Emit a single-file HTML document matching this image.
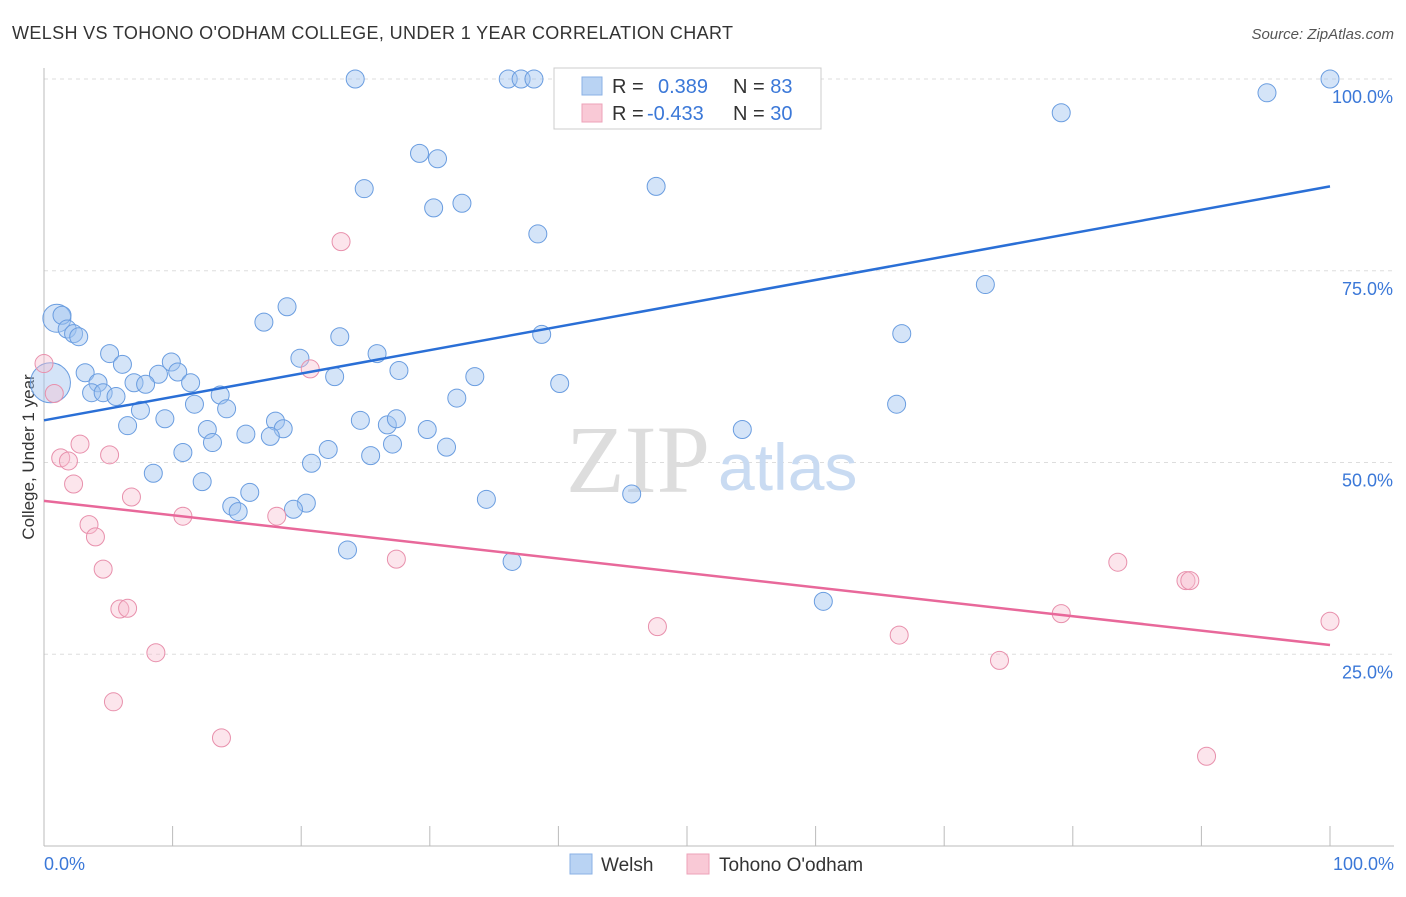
<!DOCTYPE html>
<html><head><meta charset="utf-8"><style>
body{margin:0;background:#fff;font-family:"Liberation Sans",sans-serif}
</style></head><body>
<svg id="c" width="1406" height="892" xmlns="http://www.w3.org/2000/svg">
<text x="12" y="39" font-size="18" fill="#333" textLength="721">WELSH VS TOHONO O'ODHAM COLLEGE, UNDER 1 YEAR CORRELATION CHART</text>
<text x="1394" y="39" font-size="15" fill="#555" text-anchor="end" font-style="italic">Source: ZipAtlas.com</text>
<g id="grid"></g>
<text x="710" y="492" font-size="96" fill="#ddd" text-anchor="end" font-family="Liberation Serif">ZIP</text>
<text x="718" y="490" font-size="66" fill="#c9dbf2">atlas</text>
<line x1="44" y1="68" x2="44" y2="846" stroke="#bbb"/>
<line x1="44" y1="846" x2="1394" y2="846" stroke="#bbb"/>
<g id="xt"></g>
<g id="yl"></g>
<text x="34" y="457" font-size="17" fill="#333" text-anchor="middle" transform="rotate(-90 34 457)">College, Under 1 year</text>
<text x="44" y="870" font-size="18" fill="#3b78d8">0.0%</text>
<text x="1394" y="870" font-size="18" fill="#3b78d8" text-anchor="end">100.0%</text>
<g id="pts"></g>
<g>
<rect x="554" y="68" width="267" height="61" fill="#fff" stroke="#ccc"/>
<rect x="582" y="77" width="20" height="18" fill="#b9d3f3" stroke="#8ab0e6"/>
<rect x="582" y="104" width="20" height="18" fill="#f9c9d6" stroke="#eda2b8"/>
<text x="612" y="93" font-size="20" fill="#333">R = <tspan fill="#3b78d8" x="658">0.389</tspan><tspan x="733" fill="#333">N = </tspan><tspan fill="#3b78d8">83</tspan></text>
<text x="612" y="120" font-size="20" fill="#333">R = <tspan fill="#3b78d8" x="647">-0.433</tspan><tspan x="733" fill="#333">N = </tspan><tspan fill="#3b78d8">30</tspan></text>
</g>
<g>
<rect x="570" y="854" width="22" height="20" fill="#b9d3f3" stroke="#8ab0e6"/>
<text x="601" y="871" font-size="19" fill="#333">Welsh</text>
<rect x="687" y="854" width="22" height="20" fill="#f9c9d6" stroke="#eda2b8"/>
<text x="719" y="871" font-size="19" fill="#333">Tohono O'odham</text>
</g>
</svg>
<script>
const blueX=[24.2,36.1,37.1,38.1,41.2,100,95.1,79.1,29.2,30.6,24.9,47.6,30.3,32.5,38.4,73.2,18.9,17.1,1.0,1.4,1.8,2.3,2.7,23.0,38.7,66.7,5.1,6.1,25.9,19.9,9.9,10.4,3.2,8.9,27.6,22.6,33.5,40.1,4.2,7.0,7.9,11.4,3.7,4.6,5.6,13.7,32.1,11.7,14.2,7.5,66.3,9.4,18.0,24.6,26.7,27.4,6.5,12.7,18.6,29.8,54.3,15.7,17.6,13.1,27.1,31.3,10.8,22.1,20.8,25.4,8.5,12.3,16.0,34.4,45.7,20.4,14.6,19.4,15.1,23.6,36.4,60.6,0.5];
const blueY=[100,100,100,100,100,100,98.2,95.6,90.3,89.6,85.7,86.0,83.2,83.8,79.8,73.2,70.3,68.3,68.8,69.2,67.4,66.8,66.4,66.4,66.7,66.8,64.2,62.8,64.2,63.6,63.1,61.8,61.7,61.5,62.0,61.2,61.2,60.3,60.4,60.4,60.2,60.4,59.1,59.1,58.6,58.8,58.4,57.6,57.0,56.8,57.6,55.7,55.4,55.5,54.9,55.7,54.8,54.3,54.4,54.3,54.3,53.7,53.4,52.6,52.4,52.0,51.3,51.7,49.9,50.9,48.6,47.5,46.1,45.2,45.9,44.7,44.3,43.9,43.6,38.6,37.1,31.9,60.4];
const blueR=[9,9,9,9,9,9,9,9,9,9,9,9,9,9,9,9,9,9,14,9,9,9,9,9,9,9,9,9,9,9,9,9,9,9,9,9,9,9,9,9,9,9,9,9,9,9,9,9,9,9,9,9,9,9,9,9,9,9,9,9,9,9,9,9,9,9,9,9,9,9,9,9,9,9,9,9,9,9,9,9,9,9,20];
const pinkX=[0,0.8,2.8,1.3,1.9,5.1,2.3,6.8,10.8,18.1,3.5,4.0,4.6,27.4,20.7,23.1,5.9,6.5,8.7,5.4,13.8,47.7,66.5,74.3,79.1,83.5,88.8,89.1,100,90.4];
const pinkY=[62.9,59.0,52.4,50.6,50.2,51.0,47.2,45.5,43.0,43.0,41.9,40.3,36.1,37.4,62.2,78.8,30.9,31.0,25.2,18.8,14.1,28.6,27.5,24.2,30.3,37.0,34.6,34.6,29.3,11.7];
const trendB=[55.5,86.0], trendP=[45.0,26.2];
const yTicks=[25,50,75,100];
const NS="http://www.w3.org/2000/svg";
const X=v=>44+v*12.86, Y=v=>846-v*7.67;
function mk(t,a,p){const e=document.createElementNS(NS,t);for(const k in a)e.setAttribute(k,a[k]);document.getElementById(p).appendChild(e);return e;}
yTicks.forEach(t=>{const l=mk('line',{x1:44,x2:1394,y1:Y(t),y2:Y(t),stroke:'#ddd','stroke-dasharray':'4,4'},'grid');


const tx=mk('text',{x:1393,y:Y(t)+24,'font-size':18,fill:'#3b78d8','text-anchor':'end'},'yl');tx.textContent=t.toFixed(1)+'%';

});
for(let i=0;i<=10;i++){const l=mk('line',{x1:X(i*10),x2:X(i*10),y1:826,y2:846,stroke:'#bbb'},'xt');

}
blueX.forEach((x,i)=>{const c=mk('circle',{cx:X(x),cy:Y(blueY[i]),r:blueR[i],fill:'rgba(160,196,240,0.45)',stroke:'#6a9de0','stroke-width':1},'pts');

});
pinkX.forEach((x,i)=>{const c=mk('circle',{cx:X(x),cy:Y(pinkY[i]),r:9,fill:'rgba(248,190,208,0.4)',stroke:'#e890ac','stroke-width':1},'pts');

});
const lb=mk('line',{x1:X(0),y1:Y(trendB[0]),x2:X(100),y2:Y(trendB[1]),stroke:'#2a6fd6','stroke-width':2.5},'pts');


const lp=mk('line',{x1:X(0),y1:Y(trendP[0]),x2:X(100),y2:Y(trendP[1]),stroke:'#e8689a','stroke-width':2.5},'pts');


</script>
</body></html>
